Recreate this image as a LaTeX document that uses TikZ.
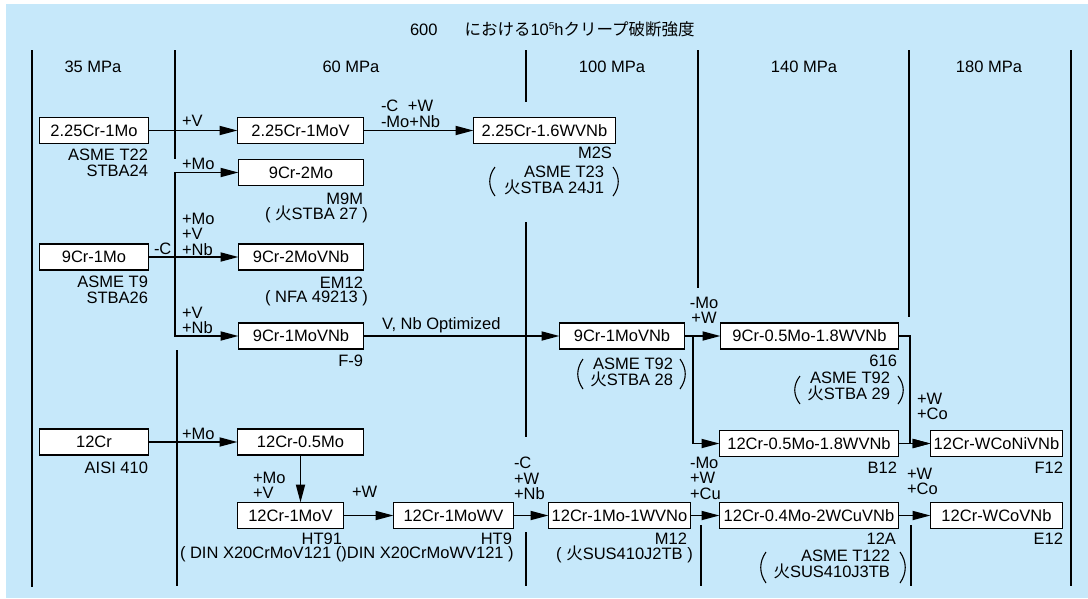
\documentclass[tikz,border=0pt]{standalone}
\usepackage{fontspec}
\setmainfont{Liberation Sans}
\newfontfamily\cjk{Noto Sans CJK JP}
\usetikzlibrary{arrows.meta}
\definecolor{bg}{RGB}{198,232,250}
\begin{document}
\begin{tikzpicture}[x=1pt,y=-1pt,
  every node/.style={font=\fontsize{16.5}{15.5}\selectfont, inner sep=0pt, outer sep=0pt},
  box/.style={draw, fill=white, line width=1.6pt, minimum height=26pt},
  sepline/.style={line width=1.8pt},
  conn/.style={line width=1.8pt, line cap=rect},
  arr/.style={conn, -{Triangle[length=18pt,width=9pt]}},
  paren/.style={line width=1.1pt},
  ne/.style={anchor=north east, align=right},
  nw/.style={anchor=north west, align=left},
  nc/.style={anchor=north, align=center}
]
\useasboundingbox (0,0) rectangle (1088,598);
\fill[white] (0,0) rectangle (1088,598);
\fill[bg] (6,4) rectangle (1088,598);

% title and column headers
\node[anchor=base west] (title) at (410,35) {600\hspace{27pt}{\cjk における}10\raisebox{6pt}{\fontsize{10}{10}\selectfont 5}h{\cjk クリープ破断強度}};
\node[anchor=base] (h1) at (93,72) {35 MPa};
\node[anchor=base] (h2) at (351,72) {60 MPa};
\node[anchor=base] (h3) at (612,72) {100 MPa};
\node[anchor=base] (h4) at (804,72) {140 MPa};
\node[anchor=base] (h5) at (989,72) {180 MPa};

% separators
\draw[sepline] (32,50) -- (32,587);
\draw[sepline] (175,50) -- (175,159);
\draw[sepline] (177,350) -- (177,586);
\draw[sepline] (526,50) -- (526,102);
\draw[sepline] (526,222) -- (526,437);
\draw[sepline] (526,532) -- (526,586);
\draw[sepline] (698,50) -- (698,288);
\draw[sepline] (701,525) -- (701,586);
\draw[sepline] (909,50) -- (909,317);
\draw[sepline] (911,525) -- (911,586);
\draw[sepline] (1071,50) -- (1071,586);

% boxes
\node[box, minimum width=109] (b1) at (94,130.5) {2.25Cr-1Mo};
\node[box, minimum width=126] (b2) at (300.5,130.5) {2.25Cr-1MoV};
\node[box, minimum width=142] (b3) at (544.5,130.5) {2.25Cr-1.6WVNb};
\node[box, minimum width=125] (b4) at (301,172.5) {9Cr-2Mo};
\node[box, minimum width=109] (b5) at (94,257) {9Cr-1Mo};
\node[box, minimum width=125] (b6) at (301,257) {9Cr-2MoVNb};
\node[box, minimum width=125] (b7) at (301,336) {9Cr-1MoVNb};
\node[box, minimum width=125] (b8) at (622,336) {9Cr-1MoVNb};
\node[box, minimum width=178] (b9) at (809.5,336) {9Cr-0.5Mo-1.8WVNb};
\node[box, minimum width=179] (b10) at (809,443.5) {12Cr-0.5Mo-1.8WVNb};
\node[box, minimum width=132] (b11) at (996.5,443.5) {12Cr-WCoNiVNb};
\node[box, minimum width=109] (b12) at (94,442) {12Cr};
\node[box, minimum width=126] (b13) at (300.5,442) {12Cr-0.5Mo};
\node[box, minimum width=106] (b14) at (290.5,515.5) {12Cr-1MoV};
\node[box, minimum width=120] (b15) at (453.5,515.5) {12Cr-1MoWV};
\node[box, minimum width=142] (b16) at (619.5,515.5) {12Cr-1Mo-1WVNo};
\node[box, minimum width=179] (b17) at (809,515.5) {12Cr-0.4Mo-2WCuVNb};
\node[box, minimum width=132] (b18) at (996.5,515.5) {12Cr-WCoVNb};

% junctions
\coordinate (j1) at (175,336);
\coordinate (j2) at (693,336);
\coordinate (j3) at (910,336);

% connectors
\draw[arr] (b1) -- (b2);
\draw[arr] (b2.east) -- (b2.east -| b3.west);
\draw[arr] (b5) -- (b6);
\draw[arr] (j1) |- (b4.west);
\draw[arr] (j1) -- (b7.west);
\draw[arr] (b7) -- (b8);
\draw[arr] (b8) -- (b9);
\draw[arr] (j2) |- (b10.west);
\draw[arr] (b9.east) -- (j3) |- (b11.west);
\draw[arr] (b10) -- (b11);
\draw[arr] (b12) -- (b13);
\draw[arr] (b13.south) -- (b13.south |- b14.north);
\draw[arr] (b14) -- (b15);
\draw[arr] (b15) -- (b16);
\draw[arr] (b16) -- (b17);
\draw[arr] (b17) -- (b18);

% connector labels
\node[nw] (c1) at (182,115) {+V};
\node[nw] (c2) at (381,100) {-C\hspace{9.6pt}+W\\-Mo+Nb};
\node[nw] (c3) at (182,158) {+Mo};
\node[nw] (c4) at (182,213) {+Mo\\+V\\+Nb};
\node[nw] (c5) at (154,243) {-C};
\node[nw] (c6) at (182,307) {+V\\+Nb};
\node[nw] (c7) at (382,318) {V, Nb Optimized};
\node[nc] (c8) at (704,297) {-Mo\\+W};
\node[nw] (c9) at (917,393) {+W\\+Co};
\node[nw] (c10) at (182,428) {+Mo};
\node[nw] (c11) at (253,472) {+Mo\\+V};
\node[nw] (c12) at (352,486) {+W};
\node[nw] (c13) at (514,457) {-C\\+W\\+Nb};
\node[nw] (c14) at (690,457) {-Mo\\+W\\+Cu};
\node[nw] (c15) at (907,468) {+W\\+Co};

% material labels
\node[ne] (l1) at (148,149) {ASME T22\\STBA24};
\node[ne] (l2) at (612,147) {M2S};
\node[ne] (l3) at (604,166) {ASME T23\\{\cjk 火}STBA 24J1};
\node[ne] (l4) at (363,193) {M9M};
\node[nc] (l5) at (316.5,206) {( {\cjk 火}STBA 27 )};
\node[ne] (l6) at (148,276) {ASME T9\\STBA26};
\node[ne] (l7) at (363,277) {EM12};
\node[nc] (l8) at (316.5,291) {( NFA 49213 )};
\node[ne] (l9) at (363,355) {F-9};
\node[ne] (l10) at (673,358) {ASME T92\\{\cjk 火}STBA 28};
\node[ne] (l11) at (897,355) {616};
\node[ne] (l12) at (890,372) {ASME T92\\{\cjk 火}STBA 29};
\node[ne] (l13) at (897,462) {B12};
\node[ne] (l14) at (1063,462) {F12};
\node[ne] (l15) at (148,462) {AISI 410};
\node[ne] (l16) at (342,533) {HT91};
\node[nw] (l17) at (180,547) {( DIN X20CrMoV121 ()DIN X20CrMoWV121 )};
\node[ne] (l18) at (512,533) {HT9};
\node[ne] (l19) at (687,533) {M12};
\node[nc] (l20) at (624.5,546) {( {\cjk 火}SUS410J2TB )};
\node[ne] (l21) at (896,533) {12A};
\node[ne] (l22) at (890,550) {ASME T122\\{\cjk 火}SUS410J3TB};
\node[ne] (l23) at (1063,533) {E12};

% tall parentheses
\draw[paren] (495,167) .. controls (488,176) and (488,187) .. (495,196);
\draw[paren] (613,167) .. controls (620,176) and (620,187) .. (613,196);
\draw[paren] (583,359) .. controls (576,369) and (576,379) .. (583,389);
\draw[paren] (680,359) .. controls (687,369) and (687,379) .. (680,389);
\draw[paren] (800,376) .. controls (793,385) and (793,395) .. (800,404);
\draw[paren] (898,376) .. controls (905,385) and (905,395) .. (898,404);
\draw[paren] (766,552) .. controls (759,562) and (759,573) .. (766,583);
\draw[paren] (900,552) .. controls (907,562) and (907,573) .. (900,583);
\end{tikzpicture}
\end{document}
